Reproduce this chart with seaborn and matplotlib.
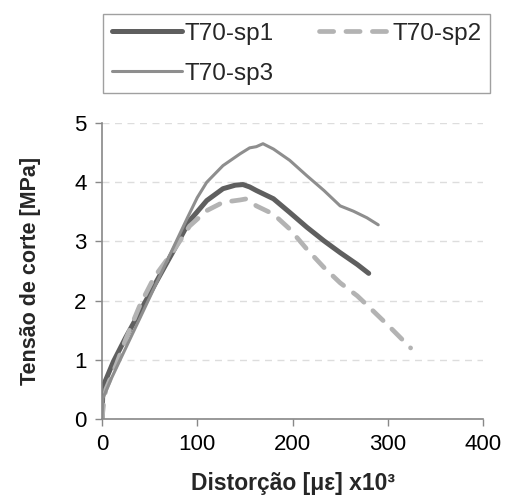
import matplotlib
matplotlib.use("Agg")
import matplotlib.pyplot as plt
import seaborn as sns
import pandas as pd
from matplotlib.lines import Line2D

series_names = ["T70-sp1", "T70-sp2", "T70-sp3"]

sp1_x = [0, 1, 5, 12, 25, 40, 55, 75, 92, 110, 127, 140, 148, 155, 162, 180, 197, 215, 233, 250, 268, 280]
sp1_y = [0.0, 0.55, 0.70, 0.97, 1.38, 1.82, 2.26, 2.84, 3.35, 3.69, 3.89, 3.95, 3.96, 3.92, 3.86, 3.72, 3.49, 3.24, 3.01, 2.81, 2.61, 2.46]

sp2_x = [0, 2, 4, 15, 25, 40, 55, 75, 92, 110, 127, 145, 152, 162, 180, 197, 215, 233, 250, 268, 285, 303, 324]
sp2_y = [0.0, 0.30, 0.50, 0.92, 1.35, 1.93, 2.40, 2.84, 3.26, 3.52, 3.66, 3.70, 3.72, 3.60, 3.46, 3.21, 2.87, 2.56, 2.30, 2.08, 1.82, 1.54, 1.20]

sp3_x = [0, 1, 10, 22, 40, 57, 75, 90, 100, 110, 127, 145, 155, 162, 169, 180, 197, 215, 233, 250, 264, 278, 290]
sp3_y = [0.0, 0.35, 0.69, 1.10, 1.71, 2.29, 2.90, 3.41, 3.74, 4.00, 4.28, 4.48, 4.58, 4.60, 4.65, 4.56, 4.37, 4.11, 3.86, 3.60, 3.51, 3.40, 3.28]

x_ticks = [0, 100, 200, 300, 400]
y_ticks = [0, 1, 2, 3, 4, 5]

frames = []
for name, xs, ys in zip(series_names, [sp1_x, sp2_x, sp3_x], [sp1_y, sp2_y, sp3_y]):
    frames.append(pd.DataFrame({"x": xs, "y": ys, "series": name}))
df = pd.concat(frames, ignore_index=True)

sns.set_style("white")
plt.rcParams["font.family"] = ["Liberation Sans", "DejaVu Sans"]

fig = plt.figure(figsize=(5.08, 5.01), dpi=100)
ax = fig.add_axes([0.2008, 0.1637, 0.7500, 0.5908])

palette = {"T70-sp1": "#5f5f5f", "T70-sp2": "#b3b3b3", "T70-sp3": "#8e8e8e"}
dash_pat = (3.0, 2.6)
dashes = {"T70-sp1": "", "T70-sp2": dash_pat, "T70-sp3": ""}
sizes = {"T70-sp1": 3.6, "T70-sp2": 3.4, "T70-sp3": 2.2}

sns.lineplot(data=df, x="x", y="y", hue="series", style="series", size="series",
             palette=palette, dashes=dashes, sizes=sizes, sort=False,
             estimator=None, ax=ax, legend=False)
for ln in ax.get_lines():
    ln.set_dash_capstyle("round")
    ln.set_solid_capstyle("round")

ax.set_xlim(0, 400)
ax.set_ylim(0, 5)
ax.set_xticks(x_ticks)
ax.set_yticks(y_ticks)
ax.tick_params(axis="both", labelsize=16, labelcolor="#000000", color="#888888",
               length=5, width=1, direction="out", pad=6)
ax.yaxis.grid(True, color="#dddddd", linestyle=(0, (5, 4)), linewidth=1)
ax.xaxis.grid(False)
for s in ["top", "right"]:
    ax.spines[s].set_visible(False)
for s in ["left", "bottom"]:
    ax.spines[s].set_color("#888888")
    ax.spines[s].set_linewidth(1.2)
ax.tick_params(left=True, bottom=True)

ax.set_xlabel("Distorção [με] x10³", fontsize=16.5, fontweight="bold", labelpad=12)
ax.set_ylabel("Tensão de corte [MPa]", fontsize=15.5, fontweight="bold", labelpad=24)

order = ["T70-sp1", "T70-sp3", "T70-sp2"]
handles = [Line2D([], [], color=palette[n], lw=sizes[n],
                  linestyle="-" if n != "T70-sp2" else (0, dash_pat),
                  solid_capstyle="round", dash_capstyle="round") for n in order]
leg = fig.legend(handles, order, loc="upper center",
                 bbox_to_anchor=(103 / 508, 1 - 97 / 501, 387 / 508, 83 / 501),
                 mode="expand", ncol=2, fontsize=17.5, frameon=True, fancybox=False,
                 handlelength=2.9, handletextpad=0.1, borderaxespad=0, borderpad=0.35,
                 columnspacing=1.0, labelspacing=0.75)
leg.get_frame().set_edgecolor("#888888")
leg.get_frame().set_linewidth(1.0)

fig.savefig("out.png", dpi=100)
